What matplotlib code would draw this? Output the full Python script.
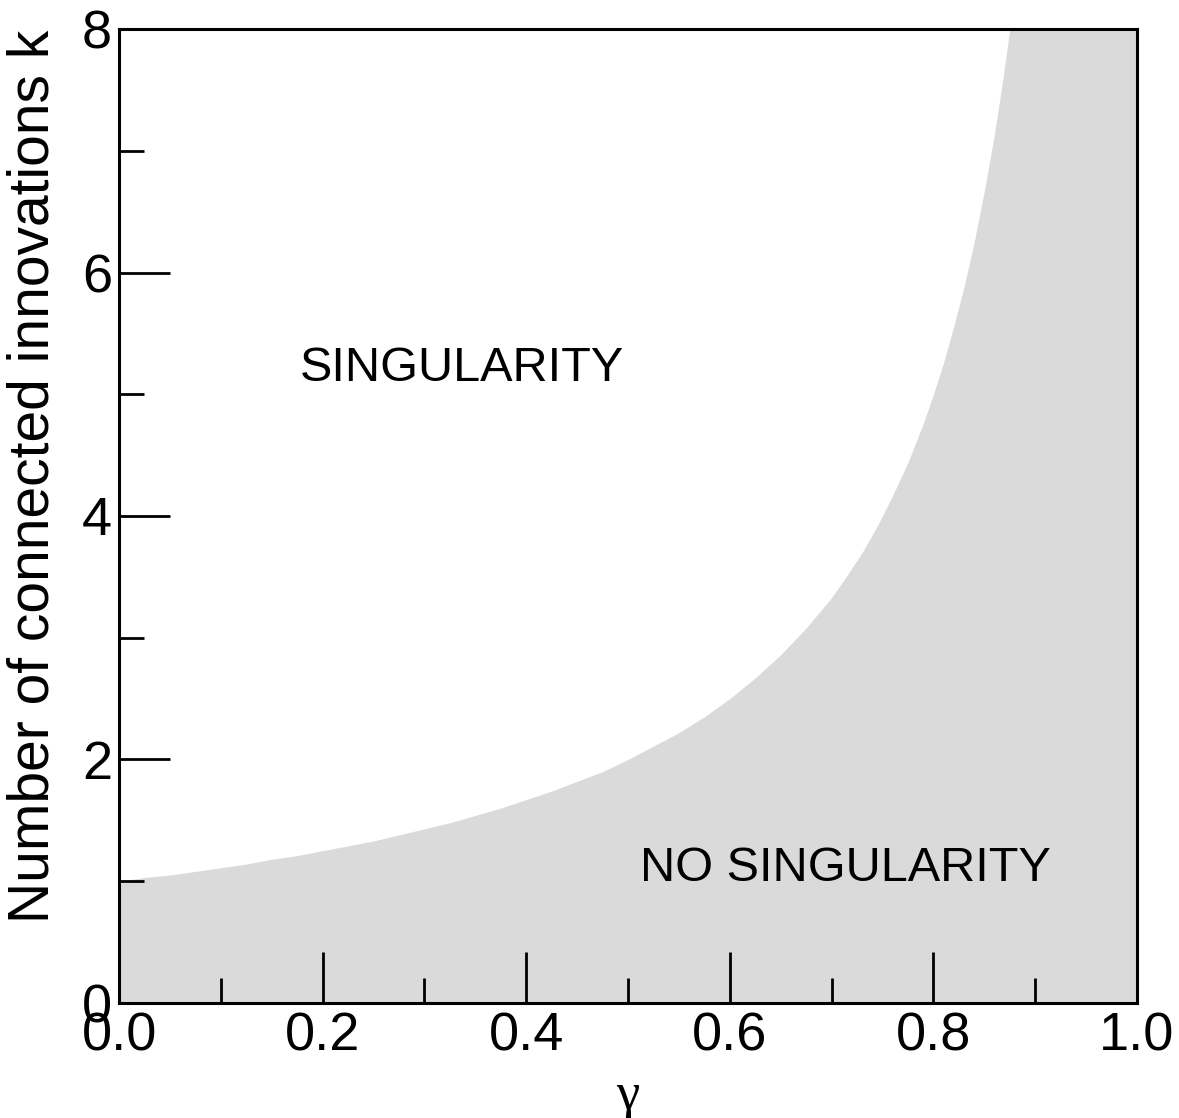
import matplotlib
matplotlib.use("Agg")
import matplotlib.pyplot as plt

# boundary between the two regions
gamma = [0.0, 0.025, 0.05, 0.075, 0.1, 0.125, 0.15, 0.175, 0.2, 0.225,
         0.25, 0.275, 0.3, 0.325, 0.35, 0.375, 0.4, 0.425, 0.45, 0.475,
         0.5, 0.525, 0.55, 0.575, 0.6, 0.625, 0.65, 0.675, 0.7, 0.715,
         0.73, 0.745, 0.76, 0.775, 0.79, 0.8, 0.81, 0.82, 0.83, 0.84,
         0.85, 0.86, 0.868, 0.875, 1.0]
k_crit = [1.0, 1.03, 1.05, 1.08, 1.11, 1.14, 1.18, 1.21, 1.25, 1.29,
          1.33, 1.38, 1.43, 1.48, 1.54, 1.6, 1.67, 1.74, 1.82, 1.9,
          2.0, 2.11, 2.22, 2.35, 2.5, 2.67, 2.86, 3.08, 3.33, 3.51,
          3.7, 3.92, 4.17, 4.44, 4.76, 5.0, 5.26, 5.56, 5.88, 6.25,
          6.67, 7.14, 7.58, 8.0, 8.0]

x_ticks = [0.0, 0.2, 0.4, 0.6, 0.8, 1.0]
x_labels = ["0.0", "0.2", "0.4", "0.6", "0.8", "1.0"]
y_ticks = [0, 2, 4, 6, 8]

plt.rcParams["font.family"] = ["Liberation Sans", "DejaVu Sans"]

fig = plt.figure(figsize=(11.79, 11.18), dpi=100)
ax = fig.add_axes([0.101, 0.103, 0.8634, 0.871])

ax.fill_between(gamma, 0, k_crit, color="#dadada", linewidth=0)

ax.set_xlim(0, 1)
ax.set_ylim(0, 8)

ax.set_xticks(x_ticks)
ax.set_xticklabels(x_labels)
ax.set_xticks([0.1, 0.3, 0.5, 0.7, 0.9], minor=True)
ax.set_yticks(y_ticks)
ax.set_yticks([1, 3, 5, 7], minor=True)

ax.tick_params(which="both", direction="in", width=2, labelsize=39,
               top=False, right=False)
ax.tick_params(which="major", length=37)
ax.tick_params(which="minor", length=18)
ax.tick_params(axis="x", pad=6)
ax.tick_params(axis="y", pad=5)

for sp in ax.spines.values():
    sp.set_linewidth(2.2)

ax.set_ylabel("Number of connected innovations k", fontsize=41)
ax.yaxis.set_label_coords(-0.058, 0.541)
ax.set_xlabel("γ", fontsize=38, family=["Liberation Serif", "DejaVu Serif"],
              labelpad=8)

ax.text(0.178, 5.21, "SINGULARITY", fontsize=35, va="center", ha="left")
ax.text(0.512, 1.10, "NO SINGULARITY", fontsize=35, va="center", ha="left")

fig.savefig("out.png", dpi=100)
